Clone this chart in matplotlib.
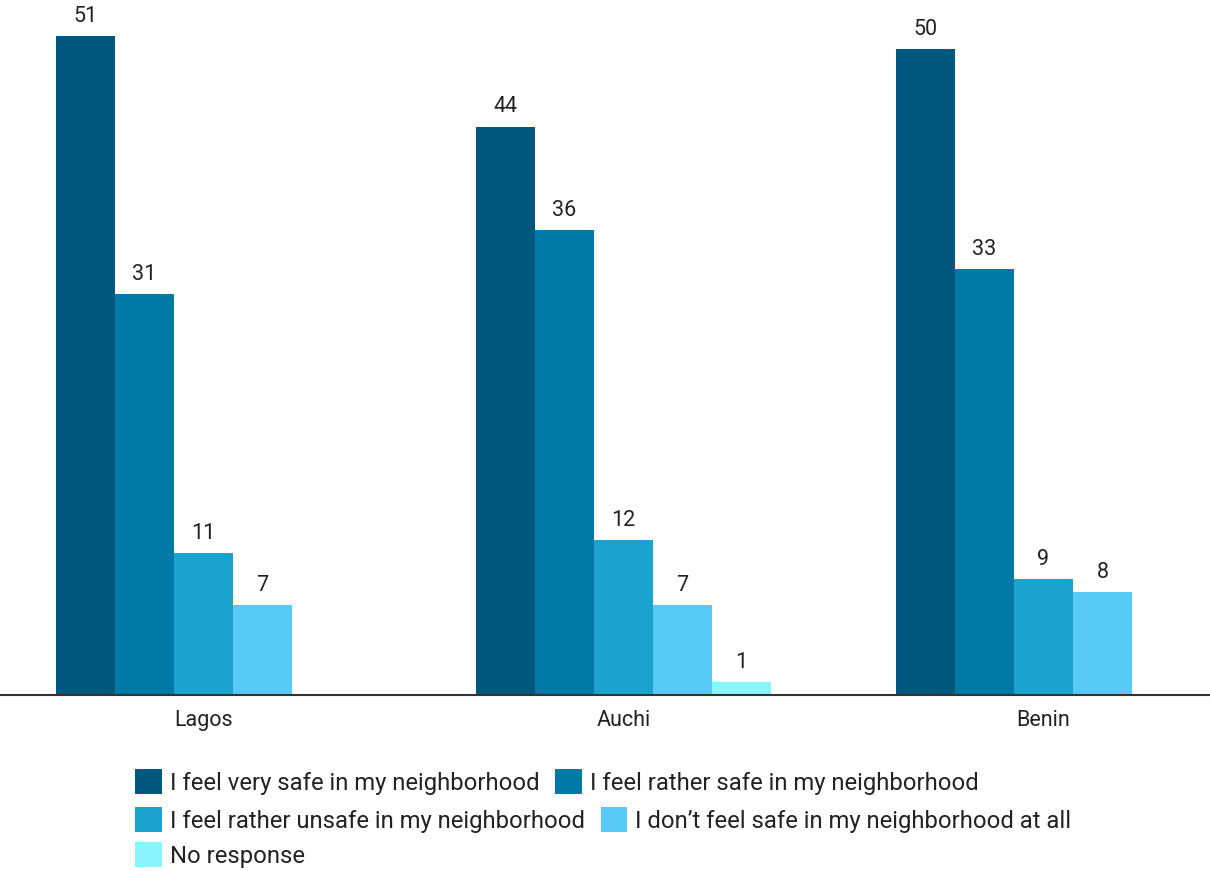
import matplotlib.pyplot as plt
from matplotlib.patches import Patch

plt.rcParams['font.family'] = ['Roboto', 'DejaVu Sans']

cities = ["Lagos", "Auchi", "Benin"]
series_names = [
  "I feel very safe in my neighborhood",
  "I feel rather safe in my neighborhood",
  "I feel rather unsafe in my neighborhood",
  "I don\u2019t feel safe in my neighborhood at all",
  "No response",
]
very_safe = [51, 44, 50]
rather_safe = [31, 36, 33]
rather_unsafe = [11, 12, 9]
not_safe = [7, 7, 8]
no_response = [0, 1, 0]
colors = ["#00577D", "#0079A6", "#1BA3D0", "#58CAF7", "#8AF5FF"]

all_series = [very_safe, rather_safe, rather_unsafe, not_safe, no_response]

fig = plt.figure(figsize=(12.10, 8.71), dpi=100)
ax = fig.add_axes([0, 176 / 871, 1, 695 / 871])

bar_w = 59 / 420
for k, vals in enumerate(all_series):
  xs = [i + (k - 2) * bar_w for i in range(len(cities))]
  bars = ax.bar(xs, vals, width=bar_w, color=colors[k], linewidth=0)
  for b, v in zip(bars, vals):
    if v == 0:
      continue
    ax.annotate(str(v), (b.get_x() + b.get_width() / 2, v), xytext=(0, 6.5),
                textcoords="offset points", ha="center", va="bottom",
                fontsize=15.5, color="#222222")

ax.set_xlim(-203.5 / 420, 2 + 166.5 / 420)
ax.set_ylim(0, 695 / 12.92)
ax.set_xticks(range(len(cities)))
ax.set_xticklabels(cities, fontsize=15.5, color="#222222")
ax.tick_params(axis="x", length=0, pad=11)
ax.set_yticks([])
for s in ["top", "right", "left"]:
  ax.spines[s].set_visible(False)
ax.spines["bottom"].set_color("#333333")
ax.spines["bottom"].set_linewidth(1.5)

handles = [Patch(facecolor=c, edgecolor="none") for c in colors]
rows = [[0, 1], [2, 3], [4]]
row_y = [782, 820, 855]
for r, yc in zip(rows, row_y):
  leg = fig.legend([handles[i] for i in r], [series_names[i] for i in r],
                   loc="center left", bbox_to_anchor=(135 / 1210, 1 - yc / 871),
                   ncol=len(r), frameon=False, fontsize=17.2,
                   handlelength=1.12, handleheight=1.2, handletextpad=0.33,
                   columnspacing=0.67, borderpad=0, borderaxespad=0)
  for t in leg.get_texts():
    t.set_color("#222222")

fig.savefig("out.png", dpi=100)
